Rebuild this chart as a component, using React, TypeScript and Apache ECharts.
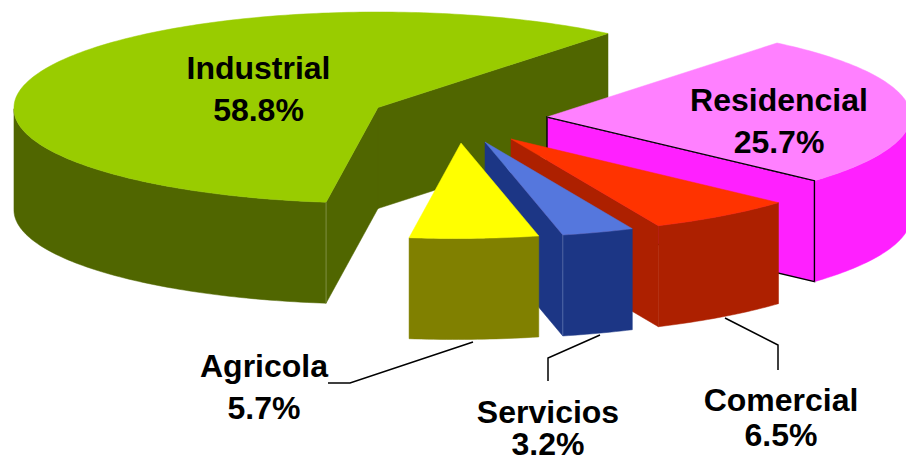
import React, { useEffect, useRef } from "react";
import * as echarts from "echarts";

// Data, clockwise round the pie
const categories = ["Industrial", "Residencial", "Comercial", "Servicios", "Agricola"];
const shares = [58.8, 25.7, 6.5, 3.2, 5.7];

// Layout and style
const FONT = '"Liberation Sans", Arial, sans-serif';
const START_ANGLE = 262.7;
const RX = 364;
const RY = 95.5;
const DEPTH = 101;
const SHEAR = 0.06;
const apexes = [[378, 107.5], [547, 117], [511, 139], [485, 142], [461, 143]];
const topColors = ["#99CC00", "#FF80FF", "#FF3300", "#5577DD", "#FFFF00"];
const sideColors = ["#506600", "#FF20FF", "#AD2000", "#1C3685", "#808000"];
const edgeColors = ["#7F8F40", null, null, "#5068A8", null];
const labelPos = [[258.5, 68, 110], [779, 100, 142], [781, 400, 435], [548, 412, 444], [264, 366, 408]];
const leaders = [
  null,
  null,
  [[725, 318], [778, 345], [778, 370]],
  [[600, 335], [548, 358], [548, 381]],
  [[473, 342], [350, 383], [328, 383]],
];

const rad = (d: number) => (d * Math.PI) / 180;

function rimPoint(cx: number, cy: number, a: number, dy = 0) {
  const down = -RY * Math.sin(rad(a));
  return [cx + RX * Math.cos(rad(a)) - SHEAR * Math.max(0, down), cy + down + dy];
}

function sliceAngles(index: number) {
  const total = shares.reduce((s, v) => s + v, 0);
  let hi = START_ANGLE;
  for (let i = 0; i < index; i++) hi -= (shares[i] / total) * 360;
  return [hi, hi - (shares[index] / total) * 360];
}

function renderItem(params: any, api: any) {
  const i = params.dataIndex;
  const value = api.value(0);
  const [cx, cy] = apexes[i];
  const [hi, lo] = sliceAngles(i);
  const step = 1;
  const n = Math.ceil((hi - lo) / step);
  const angles: number[] = [];
  for (let k = 0; k <= n; k++) angles.push(hi - ((hi - lo) * k) / n);

  const children: any[] = [];
  const black = categories[i] === "Residencial";
  const wall = (a: number) => {
    const p = rimPoint(cx, cy, a);
    children.push({
      type: "polygon",
      shape: { points: [[cx, cy], p, [p[0], p[1] + DEPTH], [cx, cy + DEPTH]] },
      style: { fill: sideColors[i], stroke: black ? "#000" : sideColors[i], lineWidth: black ? 1.4 : 0.5 },
    });
  };
  if (Math.sin(rad(lo - 90)) < 0) wall(lo);
  if (Math.sin(rad(hi + 90)) < 0) wall(hi);

  const front = angles.filter((a) => Math.sin(rad(a)) <= 0);
  if (front.length > 1) {
    const upper = front.map((a) => rimPoint(cx, cy, a));
    const lower = front.map((a) => rimPoint(cx, cy, a, DEPTH)).reverse();
    children.push({
      type: "polygon",
      shape: { points: [...upper, ...lower] },
      style: { fill: sideColors[i], stroke: sideColors[i], lineWidth: 0.5 },
    });
  }

  const top = [[cx, cy], ...angles.map((a) => rimPoint(cx, cy, a))];
  children.push({
    type: "polygon",
    shape: { points: top },
    style: { fill: topColors[i], stroke: topColors[i], lineWidth: 0.5 },
  });

  const edge = edgeColors[i];
  if (edge) {
    const p = rimPoint(cx, cy, i === 0 ? hi : lo);
    children.push({
      type: "line",
      shape: { x1: p[0], y1: p[1], x2: p[0], y2: p[1] + DEPTH },
      style: { stroke: edge, lineWidth: 1 },
    });
  }

  if (black) {
    const p = rimPoint(cx, cy, lo);
    children.push({
      type: "polyline",
      shape: { points: [[cx, cy], p, [p[0], p[1] + DEPTH]] },
      style: { fill: "none", stroke: "#000", lineWidth: 1.2 },
    });
  }
  const leader = leaders[i];
  if (leader) {
    children.unshift({
      type: "polyline",
      shape: { points: leader },
      style: { fill: "none", stroke: "#000", lineWidth: 1.5 },
    });
  }
  const [lx, y1, y2] = labelPos[i];
  const textStyle = { font: `bold 32px ${FONT}`, fill: "#000", textAlign: "center", textVerticalAlign: "middle" };
  children.push(
    { type: "text", style: { ...textStyle, text: categories[i], x: lx, y: y1 } },
    { type: "text", style: { ...textStyle, text: `${value.toFixed(1)}%`, x: lx, y: y2 } },
  );
  return { type: "group", children };
}

export default function App() {
  const ref = useRef<HTMLDivElement>(null);
  useEffect(() => {
    document.body.style.margin = "0";
    const chart = echarts.init(ref.current!, undefined, { renderer: "svg" });
    chart.setOption({
      animation: false,
      backgroundColor: "#fff",
      series: [
        {
          type: "custom",
          coordinateSystem: "none",
          renderItem,
          data: shares.map((v, i) => ({ name: categories[i], value: [v] })),
        },
      ],
    });
    return () => chart.dispose();
  }, []);
  return <div ref={ref} style={{ width: 906, height: 455 }} />;
}
